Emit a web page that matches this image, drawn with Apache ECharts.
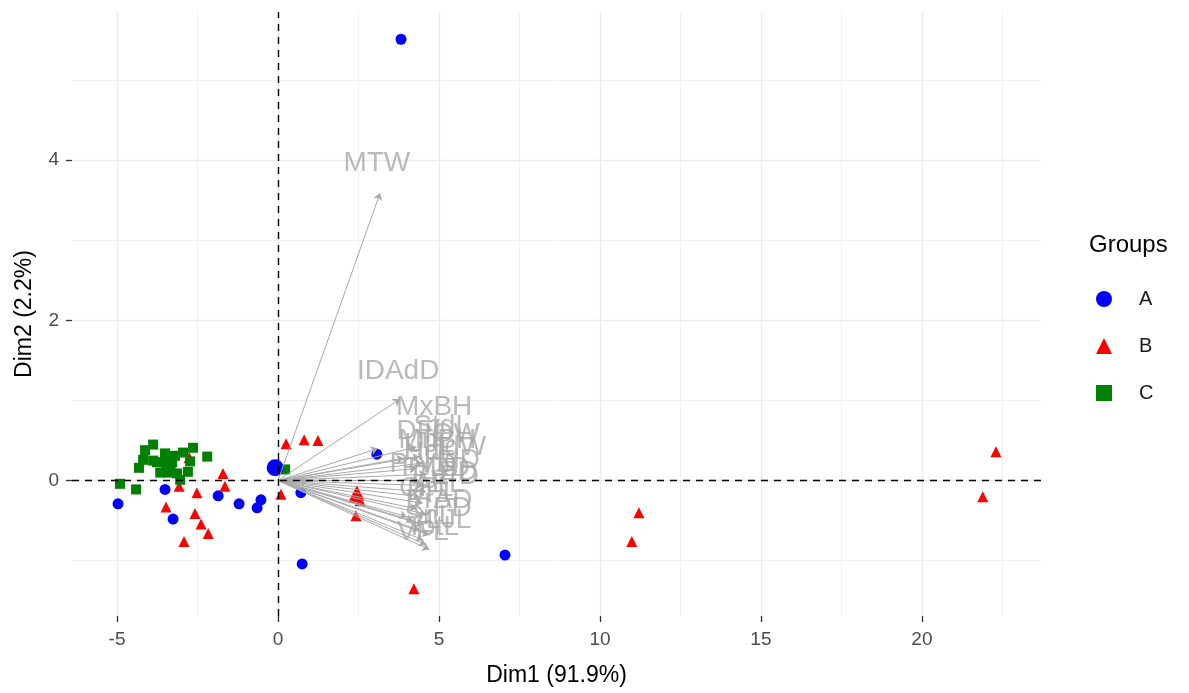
<!DOCTYPE html>
<html>
<head>
<meta charset="utf-8">
<script src="https://cdn.jsdelivr.net/npm/echarts@6/dist/echarts.min.js"></script>
<style>
  html, body { margin: 0; padding: 0; background: #fff; }
  #main { width: 1189px; height: 693px; }
</style>
</head>
<body>
<div id="main"></div>
<script>
// individuals, group A
const aX = [-4.97, -3.51, -3.26, -1.86, -1.21, -0.53, -0.65, 0.75, 0.71, 3.07, 7.05, 3.82];
const aY = [-0.29, -0.11, -0.48, -0.19, -0.29, -0.24, -0.34, -1.04, -0.15, 0.33, -0.93, 5.51];
// group B
const bX = [-1.71, -1.65, -3.07, -2.52, -3.48, -2.58, -2.39, -2.17, -2.92, -2.76, 0.25, 0.81, 1.24, 0.09,
            2.36, 2.55, 2.42, 4.22, 11.21, 10.99, 22.30, 21.89];
const bY = [0.09, -0.07, -0.07, -0.15, -0.33, -0.41, -0.54, -0.66, -0.76, 0.29, 0.46, 0.51, 0.50, -0.17,
            -0.21, -0.25, -0.44, -1.35, -0.40, -0.76, 0.36, -0.20];
// group C
const cX = [-4.91, -4.41, -4.32, -4.13, -3.88, -4.19, -3.76, -3.51, -3.66, -3.29, -3.14, -2.95, -2.64,
            -2.73, -3.04, -2.80, -2.20, -3.42, -3.88, -3.20, -3.48, 0.22];
const cY = [-0.04, -0.11, 0.16, 0.38, 0.45, 0.26, 0.23, 0.34, 0.10, 0.23, 0.09, 0.35, 0.41,
            0.24, 0.01, 0.11, 0.30, 0.10, 0.25, 0.31, 0.19, 0.14];
// group means
const meanX = [-0.09, 2.45, -3.40];
const meanY = [0.16, -0.15, 0.20];

// variables (arrows) and their labels
const varNames = ['MTW', 'IDAdD', 'MxBH', 'MnBH', 'TotL', 'StdL', 'HdL', 'HdD', 'HdW', 'PrDD', 'PrPD', 'PrVD',
                  'PrAD', 'CPL', 'CPD', 'ED', 'SnL', 'IOW', 'DFL', 'AFL', 'PFL', 'VFL', 'UJL', 'LJL'];
const varX = [3.17, 3.79, 3.10, 4.30, 4.40, 4.50, 4.30, 4.60, 4.40, 4.50, 4.60, 4.40,
              4.50, 4.30, 4.60, 4.20, 4.50, 4.40, 4.70, 4.50, 4.60, 4.70, 4.00, 3.90];
const varY = [3.59, 1.02, 0.40, 0.42, 0.30, 0.22, 0.15, 0.08, 0.00, -0.06, -0.14, -0.20,
              -0.28, -0.35, -0.42, -0.50, -0.55, -0.62, -0.68, -0.74, -0.80, -0.86, -0.45, 0.28];
const labelX = [3.07, 3.73, 4.85, 4.95, 4.80, 5.10, 4.70, 5.40, 5.50, 4.90, 5.20, 4.50,
                5.00, 4.60, 5.10, 5.60, 4.70, 5.40, 4.50, 5.00, 4.80, 4.50, 4.70, 5.30];
const labelY = [3.96, 1.37, 0.91, 0.50, -0.58, 0.68, 0.35, 0.25, 0.42, 0.15, 0.05, 0.20,
                -0.25, -0.10, -0.35, 0.10, -0.45, 0.58, 0.62, -0.05, -0.15, -0.65, 0.45, -0.50];

// axes
const xTicks = [-5, 0, 5, 10, 15, 20];
const yTicks = [0, 2, 4];
const xMinor = [-2.5, 2.5, 7.5, 12.5, 17.5, 22.5];
const yMinor = [-1, 1, 3, 5];

const font = 'Liberation Sans, Arial, sans-serif';
const pts = (xs, ys) => xs.map((x, i) => [x, ys[i]]);

const gridLines = [];
xTicks.forEach(v => gridLines.push({ xAxis: v, lineStyle: { width: 1.3, color: '#EBEBEB', type: 'solid' } }));
xMinor.forEach(v => gridLines.push({ xAxis: v, lineStyle: { width: 0.9, color: '#EEEEEE', type: 'solid' } }));
yTicks.forEach(v => gridLines.push({ yAxis: v, lineStyle: { width: 1.3, color: '#EBEBEB', type: 'solid' } }));
yMinor.forEach(v => gridLines.push({ yAxis: v, lineStyle: { width: 0.9, color: '#EEEEEE', type: 'solid' } }));

const chart = echarts.init(document.getElementById('main'));
chart.setOption({
  animation: false,
  textStyle: { fontFamily: font },
  title: {
    text: 'Groups', left: 1084, top: 228,
    textStyle: { fontSize: 24, fontWeight: 'normal', color: '#000', fontFamily: font }
  },
  legend: {
    data: [{ name: 'A', icon: 'circle' }, { name: 'B', icon: 'triangle' }, { name: 'C', icon: 'rect' }],
    orient: 'vertical', left: 1091, top: 284,
    itemWidth: 16, itemHeight: 16, itemGap: 27,
    itemStyle: { opacity: 1 },
    textStyle: { fontSize: 20, color: '#1a1a1a', padding: [0, 0, 0, 22] }
  },
  grid: { left: 72, right: 148, top: 12, bottom: 77 },
  xAxis: {
    type: 'value', min: -6.4, max: 23.7,
    name: 'Dim1 (91.9%)', nameLocation: 'middle', nameGap: 48,
    nameTextStyle: { fontSize: 23, color: '#000' },
    axisLine: { show: false, onZero: false },
    axisTick: { show: true, customValues: xTicks, length: 6, lineStyle: { color: '#333', width: 1.3 } },
    axisLabel: { customValues: xTicks, fontSize: 19, color: '#4D4D4D', margin: 14 },
    splitLine: { show: false }
  },
  yAxis: {
    type: 'value', min: -1.69, max: 5.85,
    name: 'Dim2 (2.2%)', nameLocation: 'middle', nameGap: 36,
    nameTextStyle: { fontSize: 23, color: '#000' },
    axisLine: { show: false, onZero: false },
    axisTick: { show: true, customValues: yTicks, length: 6, lineStyle: { color: '#333', width: 1.3 } },
    axisLabel: { customValues: yTicks, fontSize: 19, color: '#4D4D4D', margin: 13 },
    splitLine: { show: false }
  },
  series: [
    {
      name: 'grid', type: 'scatter', data: [], z: 0, silent: true,
      markLine: { silent: true, z: 0, symbol: 'none', label: { show: false }, data: gridLines }
    },
    {
      name: 'A', type: 'scatter', symbol: 'circle', symbolSize: 11, z: 2,
      itemStyle: { color: '#0000FF', opacity: 1 }, data: pts(aX, aY)
    },
    {
      name: 'B', type: 'scatter', symbol: 'triangle', symbolSize: 11, z: 2,
      itemStyle: { color: '#FF0000', opacity: 1 }, data: pts(bX, bY)
    },
    {
      name: 'C', type: 'scatter', symbol: 'rect', symbolSize: 10, z: 2,
      itemStyle: { color: '#008000', opacity: 1 }, data: pts(cX, cY)
    },
    {
      name: 'A', type: 'scatter', symbol: 'circle', symbolSize: 17, z: 3,
      itemStyle: { color: '#0000FF', opacity: 1 }, data: [[meanX[0], meanY[0]]]
    },
    {
      name: 'B', type: 'scatter', symbol: 'triangle', symbolSize: 15, z: 3,
      itemStyle: { color: '#FF0000', opacity: 1 }, data: [[meanX[1], meanY[1]]]
    },
    {
      name: 'C', type: 'scatter', symbol: 'rect', symbolSize: 14, z: 3,
      itemStyle: { color: '#008000', opacity: 1 }, data: [[meanX[2], meanY[2]]]
    },
    {
      name: 'vars', type: 'lines', coordinateSystem: 'cartesian2d', z: 4, silent: true,
      symbol: ['none', 'arrow'], symbolSize: 7,
      lineStyle: { color: '#A9A9A9', width: 1, opacity: 1 },
      data: varX.map((x, i) => ({ coords: [[0, 0], [x, varY[i]]] }))
    },
    {
      name: 'varLabels', type: 'scatter', symbolSize: 0, z: 5, silent: true,
      data: labelX.map((x, i) => [x, labelY[i], varNames[i]]),
      label: {
        show: true, position: 'inside', fontSize: 28, color: '#A9A9A9',
        formatter: p => p.data[2]
      }
    },
    {
      name: 'zero', type: 'scatter', data: [], z: 6, silent: true,
      markLine: {
        silent: true, z: 6, symbol: 'none', label: { show: false },
        lineStyle: { color: '#000', width: 1.4, type: [7, 6] },
        data: [{ xAxis: 0 }, { yAxis: 0 }]
      }
    }
  ]
});
</script>
</body>
</html>
